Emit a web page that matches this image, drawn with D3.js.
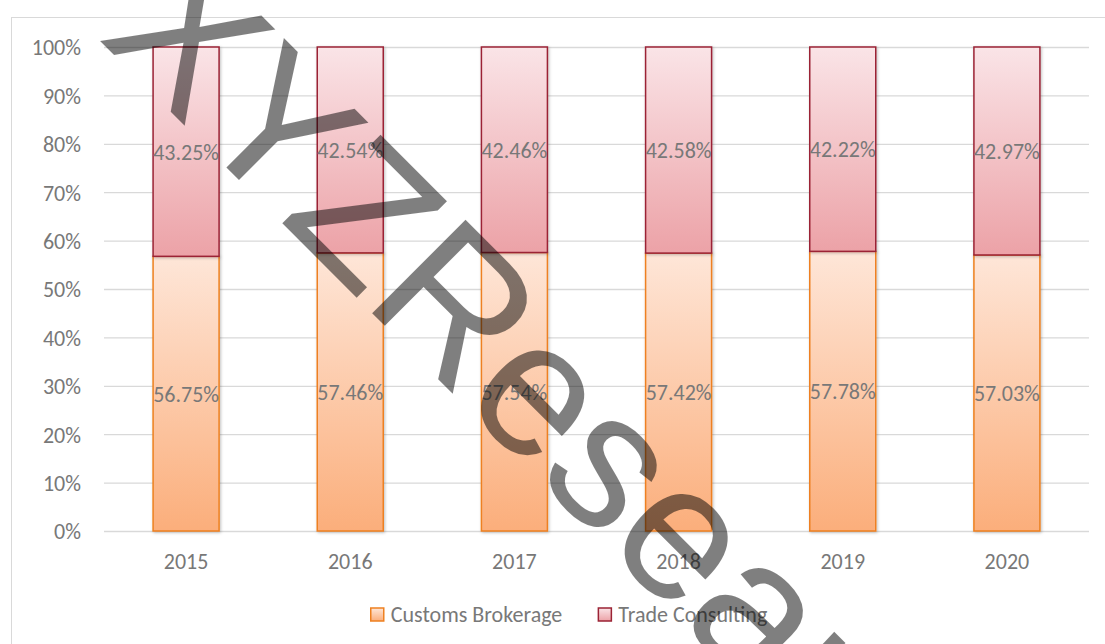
<!DOCTYPE html>
<html>
<head>
<meta charset="utf-8">
<script src="https://cdn.jsdelivr.net/npm/d3@7"></script>
<style>
  html, body { margin: 0; padding: 0; background: #fff; }
  svg { display: block; }
</style>
</head>
<body>
<svg id="chart" width="1105" height="644"></svg>
<script>
// ---- data ----
const years = ["2015", "2016", "2017", "2018", "2019", "2020"];
const customsBrokerage = [56.75, 57.46, 57.54, 57.42, 57.78, 57.03];
const tradeConsulting  = [43.25, 42.54, 42.46, 42.58, 42.22, 42.97];
const seriesNames = ["Customs Brokerage", "Trade Consulting"];
const yTicks = [0, 0.1, 0.2, 0.3, 0.4, 0.5, 0.6, 0.7, 0.8, 0.9, 1.0];
const watermarkText = "XYZResearch";

// ---- layout ----
const plot = { left: 104, right: 1089, top: 47, bottom: 531 };
const FONT = "Carlito, Lato, 'Open Sans', sans-serif";
const FS = 22;
const TEXT = "#787878";

const svg = d3.select("#chart");

// defs: gradients + shadow
const defs = svg.append("defs");
function grad(id, top, bottom) {
  const g = defs.append("linearGradient").attr("id", id)
    .attr("x1", 0).attr("y1", 0).attr("x2", 0).attr("y2", 1);
  g.append("stop").attr("offset", "0%").attr("stop-color", top);
  g.append("stop").attr("offset", "100%").attr("stop-color", bottom);
}
grad("gCustoms", "#fee6d8", "#fbae7b");
grad("gTrade", "#fae4e7", "#eca2a7");
const f = defs.append("filter").attr("id", "shadow")
  .attr("x", "-20%").attr("y", "-5%").attr("width", "140%").attr("height", "110%");
f.append("feDropShadow").attr("dx", 1).attr("dy", 1).attr("stdDeviation", 1.5)
  .attr("flood-color", "#000").attr("flood-opacity", 0.25);

// chart frame
svg.append("rect")
  .attr("x", 11.5).attr("y", 17.5).attr("width", 1200).attr("height", 800)
  .attr("fill", "#fff").attr("stroke", "#d9d9d9").attr("stroke-width", 1);

// scales
const x = d3.scaleBand().domain(years)
  .range([plot.left, plot.right])
  .paddingInner(0.598).paddingOuter(0.299);
const y = d3.scaleLinear().domain([0, 1]).range([plot.bottom, plot.top]);

// gridlines + y labels
const yAxis = d3.axisLeft(y).tickValues(yTicks)
  .tickSize(-(plot.right - plot.left)).tickPadding(23)
  .tickFormat(d3.format(".0%"));
const gy = svg.append("g").attr("transform", `translate(${plot.left},0)`).call(yAxis);
gy.select(".domain").remove();
gy.selectAll(".tick line").attr("stroke", "#d9d9d9").attr("stroke-width", 1.3);
gy.selectAll(".tick text").attr("fill", TEXT).attr("font-family", FONT)
  .attr("font-size", FS).attr("dy", "0.36em");

// x axis labels
const xAxis = d3.axisBottom(x).tickSize(0).tickPadding(22);
const gx = svg.append("g").attr("transform", `translate(0,${plot.bottom})`).call(xAxis);
gx.select(".domain").remove();
gx.selectAll(".tick text").attr("fill", TEXT).attr("font-family", FONT)
  .attr("font-size", FS);

// stacked data
const rows = years.map((yr, i) => ({
  year: yr,
  customs: customsBrokerage[i] / 100,
  trade: tradeConsulting[i] / 100
}));
const stack = d3.stack().keys(["customs", "trade"])(rows);
const fills = ["url(#gCustoms)", "url(#gTrade)"];
const strokes = ["#ee8020", "#9b2335"];
const raw = [customsBrokerage, tradeConsulting];

const barsG = svg.append("g");
stack.forEach((layer, li) => {
  barsG.append("g").selectAll("rect").data(layer).join("rect")
    .attr("x", d => x(d.data.year))
    .attr("width", x.bandwidth())
    .attr("y", d => y(d[1]))
    .attr("height", d => y(d[0]) - y(d[1]))
    .attr("fill", fills[li])
    .attr("stroke", strokes[li])
    .attr("stroke-width", 1.5)
    .attr("filter", "url(#shadow)");
});
// labels
stack.forEach((layer, li) => {
  svg.append("g").selectAll("text").data(layer).join("text")
    .attr("x", d => x(d.data.year) + x.bandwidth() / 2)
    .attr("y", d => y((d[0] + d[1]) / 2))
    .attr("dy", "0.36em")
    .attr("text-anchor", "middle")
    .attr("fill", TEXT).attr("font-family", FONT).attr("font-size", FS)
    .text((d, i) => raw[li][i].toFixed(2) + "%");
});

// legend
const legend = svg.append("g");
const items = legend.selectAll("g").data(seriesNames).join("g");
items.append("rect").attr("width", 13).attr("height", 13).attr("y", -14)
  .attr("fill", (d, i) => fills[i]).attr("stroke", (d, i) => strokes[i]).attr("stroke-width", 1.5);
items.append("text").attr("x", 20).attr("fill", TEXT)
  .attr("font-family", FONT).attr("font-size", FS).text(d => d);
const gap = 36;
const widths = items.nodes().map(n => n.getBBox().width);
const total = d3.sum(widths) + gap * (widths.length - 1);
const startX = 569 - total / 2;
items.attr("transform", (d, i) => {
  const tx = startX + d3.sum(widths.slice(0, i)) + gap * i;
  return `translate(${tx},622)`;
});

// watermark
svg.append("text")
  .attr("transform", "translate(97,38) rotate(45)")
  .attr("font-family", "'Liberation Sans', Arial, sans-serif")
  .attr("font-size", 192)
  .attr("fill", "#000").attr("fill-opacity", 0.5)
  .attr("stroke", "#000").attr("stroke-opacity", 0.5).attr("stroke-width", 0)
  .text(watermarkText);
</script>
</body>
</html>
